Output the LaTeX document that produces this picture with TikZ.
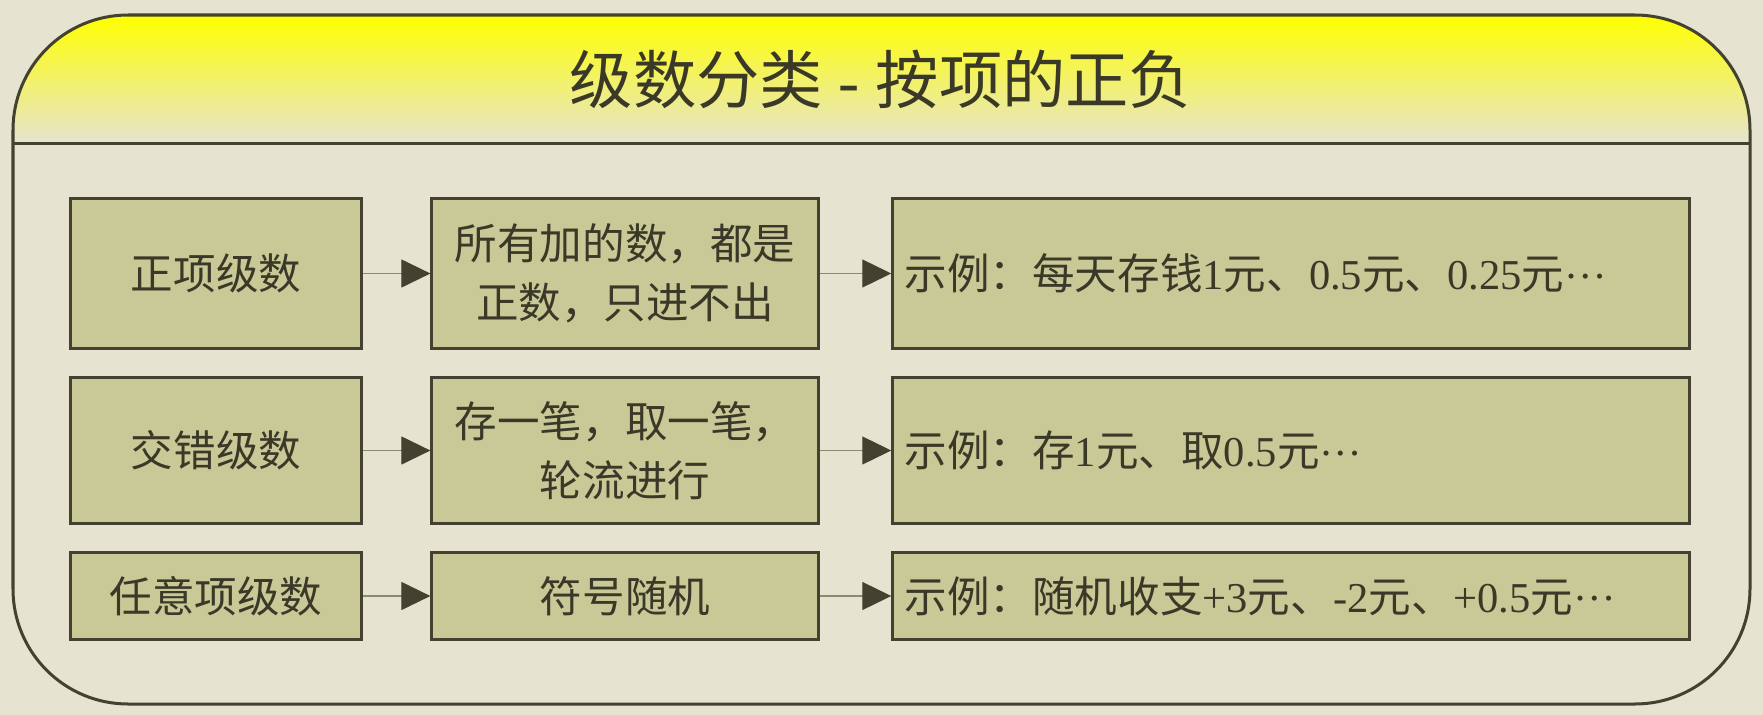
\documentclass[tikz,border=0pt]{standalone}
\usepackage{fontspec}
\setmainfont{Noto Sans CJK SC}
\newfontfamily\lat{Liberation Serif}
\usetikzlibrary{arrows.meta}
\newcommand\middots{{\lat\raisebox{0.27em}{…}}}
\definecolor{bgc}{HTML}{E6E4D1}
\definecolor{boxc}{HTML}{C9C998}
\definecolor{edgec}{HTML}{434130}
\definecolor{txtc}{HTML}{3A3928}
\definecolor{linkc}{HTML}{8A8A72}
\tikzset{
 box/.style={draw=edgec,fill=boxc,line width=0.03cm,text=txtc,inner sep=0pt,align=center},
 wide/.style={box,inner xsep=0.12cm,text width=7.72cm,align=left},
 link/.style={draw=linkc,line width=0.012cm,-{Triangle[length=0.29cm,width=0.28cm,color=edgec,fill=edgec]}}
}
\begin{document}
\begin{tikzpicture}[x=0.01cm,y=-0.01cm,font=\fontsize{12.1}{16.8}\selectfont]
 \useasboundingbox[fill=bgc] (0,0) rectangle (1763,715);
 % title band
 \begin{scope}
  \clip[rounded corners=1.15cm] (13,15) rectangle (1750,704);
  \shade[top color=yellow,bottom color=bgc] (13,15) rectangle (1750,143);
 \end{scope}
 \draw[edgec,line width=0.03cm,rounded corners=1.15cm] (13,15) rectangle (1750,704);
 \draw[edgec,line width=0.03cm] (13,143) -- (1750,143);
 \path (881,79) node[text=txtc,font=\fontsize{18}{20}\selectfont] (title) {级数分类{\lat\ -\ }按项的正负};
 % rows
 \path (216,273.5)  node[box,minimum width=2.9cm,minimum height=1.49cm] (a1) {正项级数}
  (625,273.5)  node[box,minimum width=3.86cm,minimum height=1.49cm] (b1) {所有加的数，都是\\正数，只进不出}
  (1291,273.5) node[wide,minimum height=1.49cm] (c1) {示例：每天存钱{\lat 1}元、{\lat 0.5}元、{\lat 0.25}元\middots};
 \path (216,450.5)  node[box,minimum width=2.9cm,minimum height=1.45cm] (a2) {交错级数}
  (625,450.5)  node[box,minimum width=3.86cm,minimum height=1.45cm] (b2) {存一笔，取一笔，\\轮流进行}
  (1291,450.5) node[wide,minimum height=1.45cm] (c2) {示例：存{\lat 1}元、取{\lat 0.5}元\middots};
 \path (216,596)  node[box,minimum width=2.9cm,minimum height=0.86cm] (a3) {任意项级数}
  (625,596)  node[box,minimum width=3.86cm,minimum height=0.86cm] (b3) {符号随机}
  (1291,596) node[wide,minimum height=0.86cm] (c3) {示例：随机收支{\lat +3}元、{\lat -2}元、{\lat +0.5}元\middots};
 \draw[link] (a1) -- (b1);
 \draw[link] (b1) -- (c1);
 \draw[link] (a2) -- (b2);
 \draw[link] (b2) -- (c2);
 \draw[link] (a3) -- (b3);
 \draw[link] (b3) -- (c3);
\end{tikzpicture}
\end{document}
